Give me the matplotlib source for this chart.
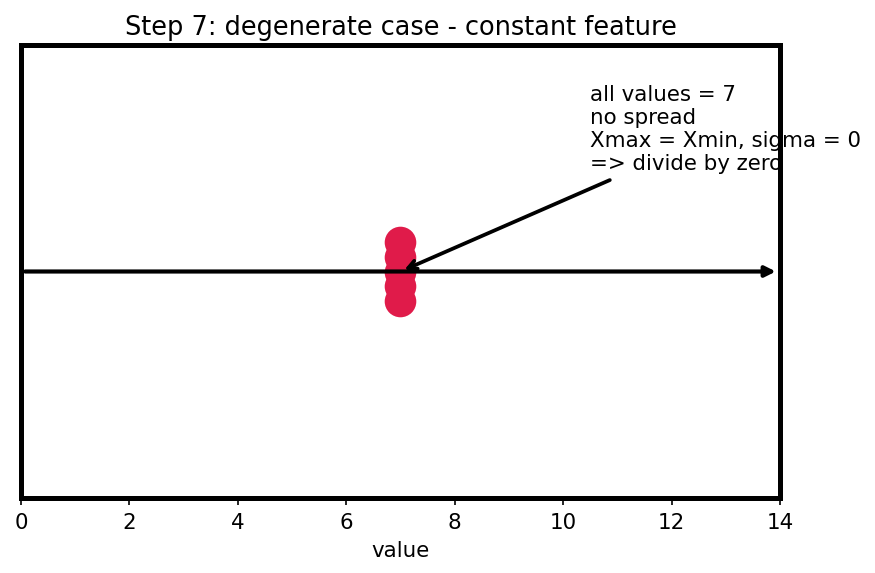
import numpy as np
import matplotlib
matplotlib.use('Agg')
import matplotlib.pyplot as plt

# constant feature: every sample equals 7
x_vals = [7, 7, 7, 7, 7]
y_jitter = [-0.132, -0.066, 0.0, 0.066, 0.132]
note = "all values = 7\nno spread\nXmax = Xmin, sigma = 0\n=> divide by zero"

plt.rcParams['font.size'] = 10.25
fig = plt.figure(figsize=(875/150, 573/150), dpi=150)
ax = fig.add_axes([21/875, 75/573, 759/875, 453/573])

ax.scatter(x_vals, y_jitter, s=230, color='#e01b4a', linewidths=0, zorder=3)

# number line
ax.annotate('', xy=(14, 0), xytext=(0, 0),
            arrowprops=dict(arrowstyle='-|>', lw=2, color='black'))

ax.annotate(note, xy=(7, 0), xytext=(10.5, 0.825), va='top', fontsize=10.25,
            arrowprops=dict(arrowstyle='->', lw=1.8, color='black'), zorder=4)

ax.set_xlim(0, 14)
ax.set_ylim(-1, 1)
ax.set_yticks([])
ax.set_xticks(np.arange(0, 15, 2))
ax.set_xlabel('value')
ax.set_title('Step 7: degenerate case - constant feature', fontsize=12.3, pad=5)
for s in ax.spines.values():
    s.set_linewidth(2.4)

fig.savefig('out.png', dpi=150)
